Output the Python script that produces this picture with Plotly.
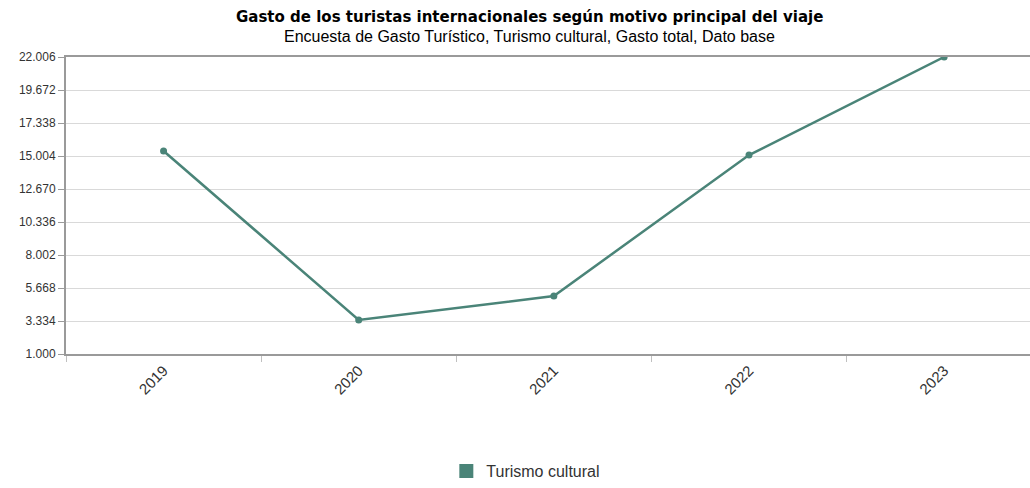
import plotly.graph_objects as go

years = ["2019", "2020", "2021", "2022", "2023"]
values = [15360, 3410, 5100, 15070, 22006]
series_name = "Turismo cultural"
y_ticks = [1000, 3334, 5668, 8002, 10336, 12670, 15004, 17338, 19672, 22006]

color = "#4a8478"

fig = go.Figure()
fig.add_trace(go.Scatter(
    x=years, y=values, mode="lines+markers", name=series_name,
    line=dict(color=color, width=2.5),
    marker=dict(color=color, size=7),
    showlegend=False, hoverinfo="x+y",
))
fig.add_trace(go.Scatter(
    x=[None], y=[None], mode="markers", name=series_name,
    marker=dict(color=color, size=14, symbol="square"),
    showlegend=True,
))

fig.update_layout(
    width=1030, height=488,
    margin=dict(l=66, r=0, t=57, b=134),
    paper_bgcolor="white", plot_bgcolor="white",
    font=dict(family="Liberation Sans, Arial, sans-serif", color="#333333"),
    separators=",.",
    xaxis=dict(
        type="category", range=[-0.5, 4.44],
        showline=True, linecolor="#9a9a9a", linewidth=2, mirror=True,
        ticks="outside", tickson="boundaries", ticklen=6, tickcolor="#c0c0c0", tickwidth=1,
        tickangle=-45, tickfont=dict(size=15, color="#333333"),
        showgrid=False, zeroline=False,
    ),
    yaxis=dict(
        range=[1000, 22006], tickmode="array", tickvals=y_ticks,
        tickformat=",d", separatethousands=True,
        showline=True, linecolor="#9a9a9a", linewidth=2,
        ticks="outside", ticklen=6, tickcolor="#9a9a9a", tickwidth=1,
        tickfont=dict(size=12, color="#333333"),
        showgrid=True, gridcolor="#d9d9d9", gridwidth=1, zeroline=False,
    ),
    legend=dict(
        orientation="h", x=0.477, xanchor="center", y=-0.394, yanchor="middle",
        font=dict(size=16, color="#333333"),
    ),
    annotations=[
        dict(text="<b>Gasto de los turistas internacionales según motivo principal del viaje</b>",
             xref="paper", yref="paper", x=0.481, y=1, yshift=40, xanchor="center", yanchor="middle",
             showarrow=False, font=dict(size=15, color="#000000", family="DejaVu Sans")),
        dict(text="Encuesta de Gasto Turístico, Turismo cultural, Gasto total, Dato base",
             xref="paper", yref="paper", x=0.481, y=1, yshift=21, xanchor="center", yanchor="middle",
             showarrow=False, font=dict(size=16, color="#000000")),
    ],
)

fig.write_html("out.html")
